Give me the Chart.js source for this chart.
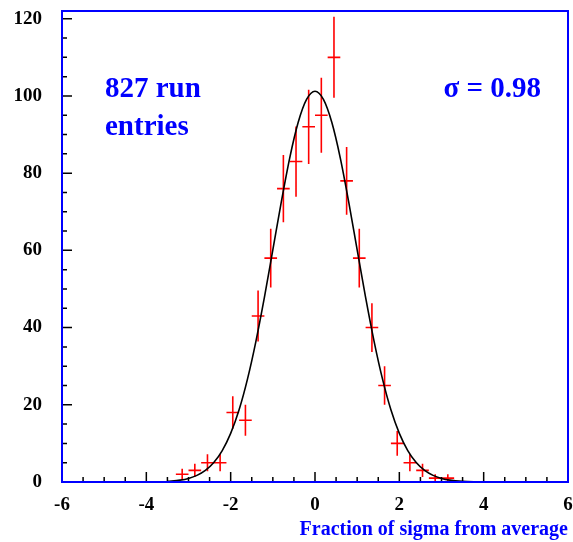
<!DOCTYPE html>
<html>
<head>
<meta charset="utf-8">
<script src="https://cdn.jsdelivr.net/npm/chart.js@4"></script>
<style>
  html, body { margin: 0; padding: 0; background: #fff; }
  #wrap { width: 573px; height: 542px; }
</style>
</head>
<body>
<div id="wrap"><canvas id="histo" width="573" height="542"></canvas></div>
<script>
// histogram bins (fraction of sigma from average) and entries per bin
const binCenters = [-3.15, -2.85, -2.55, -2.25, -1.95, -1.65, -1.35, -1.05, -0.75, -0.45, -0.15,
                    0.15, 0.45, 0.75, 1.05, 1.35, 1.65, 1.95, 2.25, 2.55, 2.85, 3.15];
const counts = [2, 3, 5, 5, 18, 16, 43, 58, 76, 83, 92, 95, 110, 78, 58, 40, 25, 10, 5, 3, 1, 1];
const countErrors = [1.4, 1.7, 2.2, 2.2, 4.2, 4.0, 6.6, 7.6, 8.7, 9.1, 9.6, 9.7, 10.5, 8.8, 7.6, 6.3, 5.0, 3.2, 2.2, 1.7, 1.0, 1.0];
const binHalfWidth = 0.15;

// gaussian fit curve
const fitX = [-3.5, -3.2, -3.0, -2.8, -2.6, -2.4, -2.2, -2.0, -1.8, -1.6, -1.4, -1.2, -1.0, -0.8, -0.6, -0.4, -0.2, 0,
              0.2, 0.4, 0.6, 0.8, 1.0, 1.2, 1.4, 1.6, 1.8, 2.0, 2.2, 2.4, 2.6, 2.8, 3.0, 3.2, 3.5, 3.9];
const fitY = [0.17, 0.49, 0.93, 1.71, 3.0, 5.04, 8.15, 12.6, 18.7, 26.7, 36.5, 47.8, 60.1, 72.5, 83.9, 93.1, 99.1, 101.2,
              99.1, 93.1, 83.9, 72.5, 60.1, 47.8, 36.5, 26.7, 18.7, 12.6, 8.15, 5.04, 3.0, 1.71, 0.93, 0.49, 0.17, 0.04];

const xTickLabels = [-6, -4, -2, 0, 2, 4, 6];
const yTickLabels = [0, 20, 40, 60, 80, 100, 120];
const infoLeft = ['827 run', 'entries'];
const infoRight = 'σ = 0.98';
const xTitle = 'Fraction of sigma from average';

const BLUE = '#0000ff';
const SERIF = '"Liberation Serif", "DejaVu Serif", serif';

// error bar crosses as broken line segments
const crossPoints = [];
binCenters.forEach((c, i) => {
    const v = counts[i], e = countErrors[i];
    crossPoints.push({x: c, y: v - e}, {x: c, y: v + e}, {x: c, y: null});
    crossPoints.push({x: c - binHalfWidth, y: v}, {x: c + binHalfWidth, y: v}, {x: c, y: null});
});

const fitPoints = fitX.map((x, i) => ({x: x, y: fitY[i]}));

// ROOT style frame, inside ticks and text boxes
const rootFrame = {
    id: 'rootFrame',
    afterDatasetsDraw(chart) {
        const {ctx, chartArea: a, scales: {x, y}} = chart;
        ctx.save();
        ctx.strokeStyle = '#000';
        ctx.lineWidth = 1.5;
        ctx.beginPath();
        for (let v = -6; v <= 6.001; v += 0.5) {
            const px = x.getPixelForValue(v);
            const len = Math.abs(v % 2) < 0.01 ? 10 : 5;
            ctx.moveTo(px, a.bottom);
            ctx.lineTo(px, a.bottom - len);
        }
        for (let v = 0; v <= 120; v += 5) {
            const py = y.getPixelForValue(v);
            const len = v % 20 === 0 ? 10 : 5;
            ctx.moveTo(a.left, py);
            ctx.lineTo(a.left + len, py);
        }
        ctx.stroke();

        ctx.strokeStyle = BLUE;
        ctx.lineWidth = 2;
        ctx.strokeRect(a.left, a.top, a.right - a.left, a.bottom - a.top);

        ctx.fillStyle = BLUE;
        ctx.font = 'bold 29px ' + SERIF;
        ctx.textAlign = 'left';
        ctx.textBaseline = 'alphabetic';
        ctx.fillText(infoLeft[0], 105, 97);
        ctx.fillText(infoLeft[1], 105, 135);
        ctx.textAlign = 'right';
        ctx.fillText(infoRight, 541, 97);
        ctx.restore();
    }
};

new Chart(document.getElementById('histo'), {
    type: 'line',
    data: {
        datasets: [
            {
                label: 'fit',
                data: fitPoints,
                borderColor: '#000',
                borderWidth: 1.6,
                pointRadius: 0,
                cubicInterpolationMode: 'monotone',
                fill: false
            },
            {
                label: 'entries',
                data: crossPoints,
                borderColor: '#ff0000',
                borderWidth: 1.6,
                pointRadius: 0,
                spanGaps: false,
                tension: 0,
                fill: false
            }
        ]
    },
    options: {
        responsive: false,
        animation: false,
        layout: { padding: { top: 11, right: 5, left: 0, bottom: 0 } },
        plugins: { legend: { display: false }, tooltip: { enabled: false } },
        scales: {
            x: {
                type: 'linear',
                min: -6,
                max: 6,
                afterBuildTicks: (s) => { s.ticks = xTickLabels.map(v => ({value: v})); },
                afterFit: (s) => { s.height = 60; s.paddingLeft = 0; s.paddingRight = 0; },
                grid: { display: false, drawTicks: false },
                border: { display: false },
                ticks: {
                    color: '#000',
                    padding: 12,
                    maxRotation: 0,
                    font: { family: SERIF, size: 19, weight: 'bold' }
                },
                title: {
                    display: true,
                    text: xTitle,
                    align: 'end',
                    color: BLUE,
                    padding: { top: 0, bottom: 0 },
                    font: { family: SERIF, size: 20, weight: 'bold' }
                }
            },
            y: {
                type: 'linear',
                min: 0,
                max: 122,
                afterBuildTicks: (s) => { s.ticks = yTickLabels.map(v => ({value: v})); },
                afterFit: (s) => { s.width = 62; s.paddingTop = 0; s.paddingBottom = 0; },
                grid: { display: false, drawTicks: false },
                border: { display: false },
                ticks: {
                    color: '#000',
                    padding: 20,
                    font: { family: SERIF, size: 19, weight: 'bold' }
                }
            }
        }
    },
    plugins: [rootFrame]
});
</script>
</body>
</html>
